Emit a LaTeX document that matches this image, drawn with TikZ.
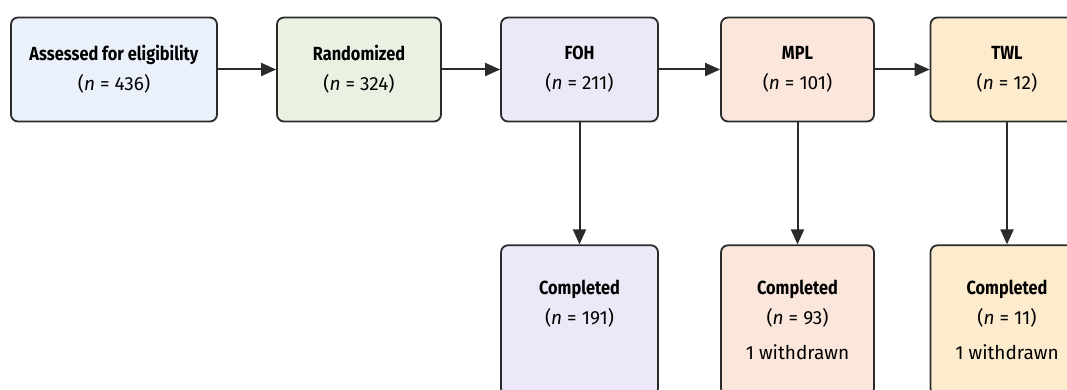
\documentclass[tikz,border=0pt]{standalone}
\usepackage{fontspec}
\setmainfont{Fira Sans}[BoldFeatures={FakeStretch=0.86}]
\usetikzlibrary{positioning,arrows.meta}

\definecolor{eligfill}{HTML}{EAF1FB}
\definecolor{randfill}{HTML}{E8F1E2}
\definecolor{fohfill}{HTML}{ECE8F7}
\definecolor{mplfill}{HTML}{FBE6DC}
\definecolor{twlfill}{HTML}{FDEBCD}
\definecolor{edge}{HTML}{2B2B2B}

\tikzset{
  stagebox/.style={draw=edge, line width=1.8pt, rounded corners=7pt, align=center,
    minimum height=104pt, inner sep=0pt, font=\fontsize{19}{30}\selectfont},
  donebox/.style={stagebox, minimum height=150pt},
  flow/.style={draw=edge, line width=2pt, -{Triangle[length=15pt,width=13pt]}}
}

\begin{document}
\begin{tikzpicture}[x=1pt,y=-1pt]
\useasboundingbox (0,0) rectangle (1067,390);
\clip (0,0) rectangle (1067,390);
\node[stagebox, fill=eligfill, minimum width=206pt] (elig) at (114,69.5)
  {\textbf{Assessed for eligibility}\\(\textit{n} = 436)};
\node[stagebox, fill=randfill, minimum width=164pt] (rand) at (359,69.5)
  {\textbf{Randomized}\\(\textit{n} = 324)};
\node[stagebox, fill=fohfill, minimum width=157pt] (foh) at (579.5,69.5)
  {\textbf{FOH}\\(\textit{n} = 211)};
\node[stagebox, fill=mplfill, minimum width=153pt] (mpl) at (797.5,69.5)
  {\textbf{MPL}\\(\textit{n} = 101)};
\node[stagebox, fill=twlfill, minimum width=153pt] (twl) at (1007,69.5)
  {\textbf{TWL}\\(\textit{n} = 12)};
% completed
\node[donebox, fill=fohfill, minimum width=157pt, below=122pt of foh] (fohdone)
  {\textbf{Completed}\\(\textit{n} = 191)\\[5pt]\phantom{1 withdrawn}};
\node[donebox, fill=mplfill, minimum width=153pt, below=122pt of mpl] (mpldone)
  {\textbf{Completed}\\(\textit{n} = 93)\\[5pt]1 withdrawn};
\node[donebox, fill=twlfill, minimum width=153pt, below=122pt of twl] (twldone)
  {\textbf{Completed}\\(\textit{n} = 11)\\[5pt]1 withdrawn};
\draw[flow] (elig) -- (rand);
\draw[flow] (rand) -- (foh);
\draw[flow] (foh) -- (mpl);
\draw[flow] (mpl) -- (twl);
\draw[flow] (foh) -- (fohdone);
\draw[flow] (mpl) -- (mpldone);
\draw[flow] (twl) -- (twldone);
\end{tikzpicture}
\end{document}
